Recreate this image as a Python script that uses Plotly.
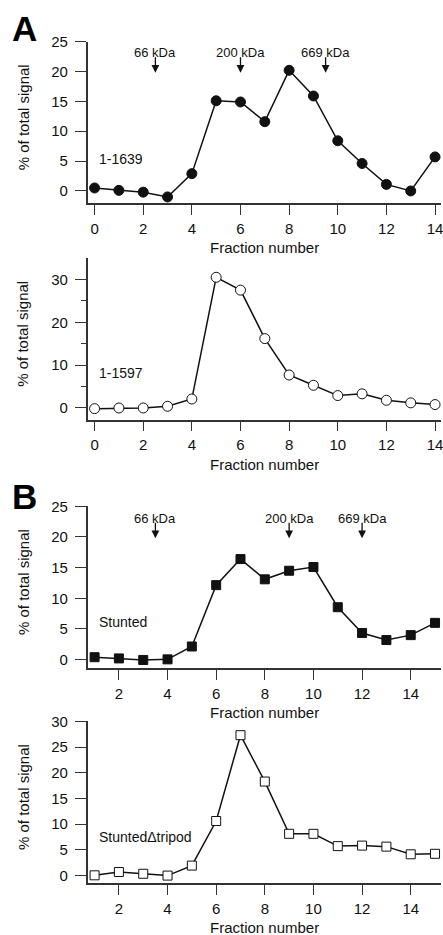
import plotly.graph_objects as go

W, H = 443, 935

# ---------------- data ----------------
frac_A = list(range(0, 15))
sig_1639 = [0.5, 0.1, -0.2, -1.0, 2.9, 15.1, 14.9, 11.6, 20.2, 15.9, 8.4, 4.6, 1.1, 0.0, 5.7]
sig_1597 = [-0.15, 0.0, 0.0, 0.4, 2.1, 30.5, 27.5, 16.2, 7.7, 5.3, 2.9, 3.3, 1.8, 1.2, 0.8]

frac_B = list(range(1, 16))
sig_stunted = [0.4, 0.2, -0.05, 0.05, 2.15, 12.15, 16.4, 13.1, 14.5, 15.1, 8.55, 4.35, 3.2, 4.0, 6.0]
sig_tripod = [0.0, 0.65, 0.3, -0.05, 1.9, 10.6, 27.35, 18.3, 8.1, 8.1, 5.7, 5.8, 5.6, 4.1, 4.2]

size_labels = ["66 kDa", "200 kDa", "669 kDa"]
size_pos_A = [2.5, 6, 9.5]
size_pos_B = [3.5, 9, 12]

panel_names = ["1-1639", "1-1597", "Stunted", "StuntedΔtripod"]
xticks_A = [0, 2, 4, 6, 8, 10, 12, 14]
xticks_B = [2, 4, 6, 8, 10, 12, 14]

FONT = "Liberation Sans, Arial, Helvetica, sans-serif"
INK = "#111111"
AX = "#333333"

def py(p):
    return 1 - p / H

fig = go.Figure()

panels = [
    dict(x=frac_A, y=sig_1639, sym="circle", fill=INK, top=33, bot=196,
         yr=[-2.0, 25], xr=[-0.287, 14.245], yt=[0, 5, 10, 15, 20, 25], minor=None, xt=xticks_A, ms=10),
    dict(x=frac_A, y=sig_1597, sym="circle", fill="white", top=251.7, bot=415,
         yr=[-2.7, 35], xr=[-0.287, 14.245], yt=[0, 10, 20, 30], minor=[5, 15, 25], xt=xticks_A, ms=10),
    dict(x=frac_B, y=sig_stunted, sym="square", fill=INK, top=502.7, bot=666,
         yr=[-1.34, 25], xr=[0.713, 15.245], yt=[0, 5, 10, 15, 20, 25], minor=None, xt=xticks_B, ms=9),
    dict(x=frac_B, y=sig_tripod, sym="square", fill="white", top=720, bot=883.3,
         yr=[-1.47, 30.06], xr=[0.713, 15.245], yt=[0, 5, 10, 15, 20, 25, 30], minor=None, xt=xticks_B, ms=9),
]

annotations = []
for i, p in enumerate(panels, start=1):
    xa = "x" if i == 1 else f"x{i}"
    ya = "y" if i == 1 else f"y{i}"
    fig.add_trace(go.Scatter(
        x=p["x"], y=p["y"], xaxis=xa, yaxis=ya, mode="lines+markers",
        line=dict(color=INK, width=1.5),
        marker=dict(symbol=p["sym"], size=p["ms"], color=p["fill"],
                    line=dict(color=INK, width=1)),
        cliponaxis=False, showlegend=False, hoverinfo="x+y"))
    yaxis = dict(
        domain=[py(p["bot"]), py(p["top"])], range=p["yr"], anchor=xa,
        showline=True, linecolor=AX, linewidth=1.5, showgrid=False, zeroline=False,
        ticks="outside", ticklen=11, tickwidth=1.3, tickcolor=AX,
        tickvals=p["yt"], ticklabelstandoff=4,
        tickfont=dict(family=FONT, size=15, color=INK))
    if p["minor"]:
        yaxis["minor"] = dict(tickvals=p["minor"], ticks="outside", ticklen=5,
                              tickwidth=1.3, tickcolor=AX)
    xaxis = dict(
        domain=[88 / W, 1.0], range=p["xr"], anchor=ya,
        showline=True, linecolor=AX, linewidth=1.5, showgrid=False, zeroline=False,
        ticks="outside", ticklen=10, tickwidth=1.3, tickcolor=AX,
        tickvals=p["xt"], ticklabelstandoff=1, ticklabeloverflow="allow",
        tickfont=dict(family=FONT, size=15, color=INK))
    key = "" if i == 1 else str(i)
    fig.layout["xaxis" + key] = xaxis
    fig.layout["yaxis" + key] = yaxis

    annotations.append(dict(text="Fraction number", xref="paper", yref="paper",
                            x=(88 + 443) / 2 / W, y=py(p["bot"] + 45), showarrow=False,
                            xanchor="center", yanchor="middle",
                            font=dict(family=FONT, size=15, color=INK)))
    annotations.append(dict(text="% of total signal", xref="paper", yref="paper",
                            x=23 / W, y=py((p["top"] + p["bot"]) / 2 - 5), textangle=-90,
                            showarrow=False, xanchor="center", yanchor="middle",
                            font=dict(family=FONT, size=15, color=INK)))
    annotations.append(dict(text=panel_names[i - 1], xref=xa + " domain", yref=ya,
                            x=(97 - 88) / (W - 88), y=[5.3, 8.1, 6.2, 7.5][i - 1],
                            showarrow=False, xanchor="left", yanchor="middle",
                            font=dict(family=FONT, size=14, color=INK)))

for i, positions in [(1, size_pos_A), (3, size_pos_B)]:
    xa = "x" if i == 1 else f"x{i}"
    ya = "y" if i == 1 else f"y{i}"
    for lab, xp in zip(size_labels, positions):
        annotations.append(dict(text="", x=xp, y=19.8, xref=xa, yref=ya,
                                showarrow=True, ax=0, ay=-17, arrowhead=2,
                                arrowsize=1.2, arrowwidth=1.3, arrowcolor=INK))
        annotations.append(dict(text=lab, x=xp, y=19.8, xref=xa, yref=ya,
                                showarrow=False, yshift=20, xanchor="center",
                                yanchor="middle",
                                font=dict(family=FONT, size=13, color=INK)))

annotations.append(dict(text="<b>A</b>", xref="paper", yref="paper", x=10 / W, y=py(20),
                        showarrow=False, xanchor="left", yanchor="middle",
                        font=dict(family=FONT, size=35, color="black")))
annotations.append(dict(text="<b>B</b>", xref="paper", yref="paper", x=10 / W, y=py(493),
                        showarrow=False, xanchor="left", yanchor="middle",
                        font=dict(family=FONT, size=35, color="black")))

fig.update_layout(width=W, height=H, margin=dict(l=0, r=0, t=0, b=0),
                  paper_bgcolor="white", plot_bgcolor="white",
                  annotations=annotations, font=dict(family=FONT, color=INK))

fig.write_html("out.html", config={"displayModeBar": False},
               post_script="document.body.style.margin='0';document.body.style.padding='0';"
                           "document.body.style.overflow='hidden';")
